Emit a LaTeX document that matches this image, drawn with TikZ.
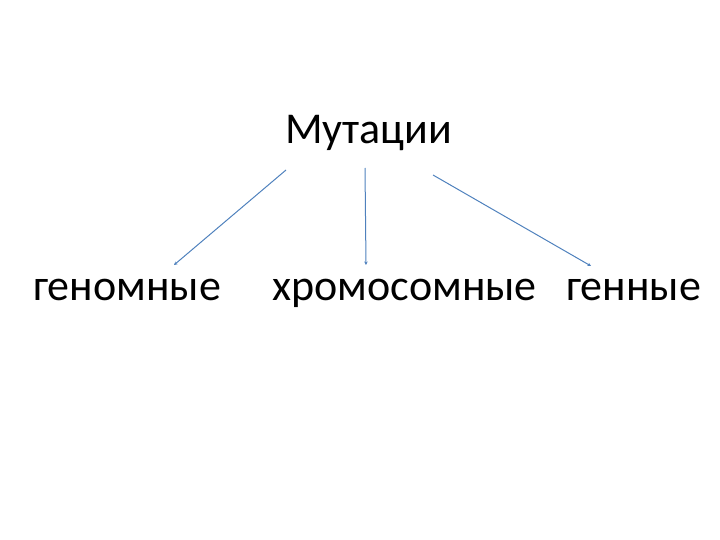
\documentclass[tikz,border=0pt]{standalone}
\usepackage{fontspec}
\setmainfont{Carlito}
\usetikzlibrary{arrows.meta}
\definecolor{linkblue}{RGB}{79,129,189}

\tikzset{
	word/.style={anchor=base west, inner sep=0pt, font=\fontsize{44}{50}\selectfont},
	link/.style={draw=linkblue, line width=1pt, -{Stealth[length=3.5pt,width=3.5pt]}}
}

\begin{document}
\begin{tikzpicture}[x=1pt,y=-1pt]
	\useasboundingbox (0,0) rectangle (720,540);
	\node[word] (mut) at (285,144) {Мутации};
	\node[word] (genom) at (33,300) {геномные};
	\node[word] (chrom) at (272,300) {хромосомные};
	\node[word] (gen) at (566,300) {генные};
	\coordinate (m1) at (286,170);
	\coordinate (m2) at (365,168);
	\coordinate (m3) at (433,175);
	\coordinate (g1) at (174,265);
	\coordinate (g2) at (366,265);
	\coordinate (g3) at (591,266);
	\draw[link] (m1) -- (g1);
	\draw[link] (m2) -- (g2);
	\draw[link] (m3) -- (g3);
\end{tikzpicture}
\end{document}
